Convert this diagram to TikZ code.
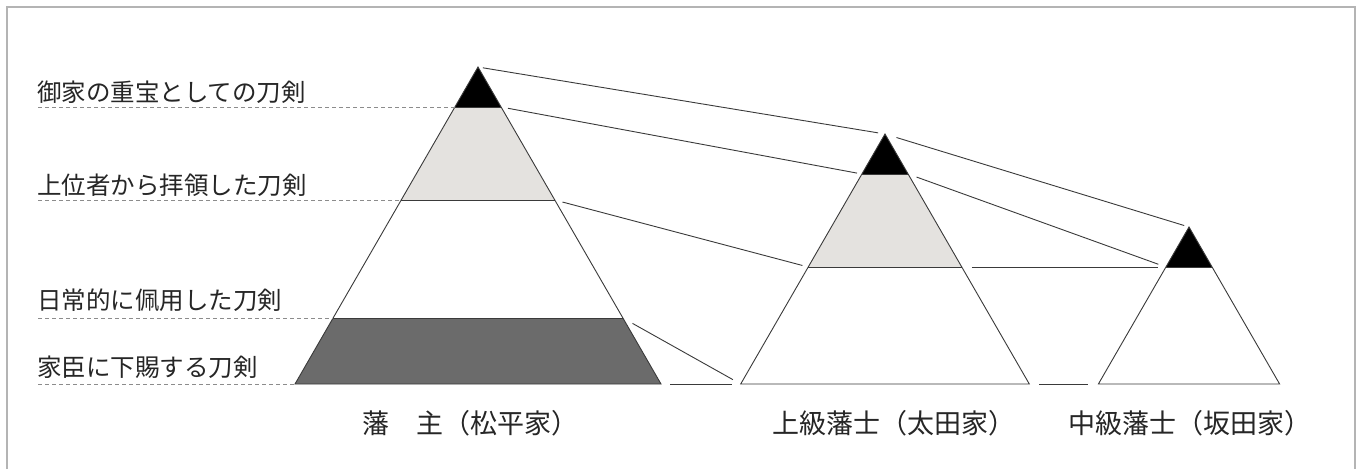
\documentclass[tikz,border=0pt]{standalone}
\usepackage{fontspec}
\setmainfont{Noto Sans CJK JP}
\definecolor{framec}{HTML}{B4B4B4}
\definecolor{linec}{HTML}{3A3A3A}
\definecolor{dashc}{HTML}{8C8C8C}
\definecolor{lightband}{HTML}{E4E2DF}
\definecolor{darkband}{HTML}{6B6B6B}
\begin{document}
\begin{tikzpicture}[x=1pt,y=-1pt,
  outline/.style={draw=linec,line width=0.9pt,line join=miter},
  conn/.style={draw=linec,line width=0.9pt},
  guide/.style={draw=dashc,line width=0.8pt,dash pattern=on 4pt off 3pt},
  sidelabel/.style={anchor=west,inner sep=0pt,font=\fontsize{24.5pt}{26pt}\selectfont,text=black!85},
  baselabel/.style={anchor=center,inner sep=0pt,font=\fontsize{27pt}{29pt}\selectfont,text=black!85}]
\useasboundingbox (0,0) rectangle (1360,469);
\fill[white] (0,0) rectangle (1360,469);
\draw[framec,line width=1.5pt] (7,469) -- (7,7) -- (1355,7) -- (1355,469);
% triangle 1
\coordinate (A1) at (478,67);
\coordinate (L1a) at (454.9,107);
\coordinate (R1a) at (501.1,107);
\coordinate (L1b) at (401.2,200);
\coordinate (R1b) at (554.8,200);
\coordinate (L1c) at (333.1,318);
\coordinate (R1c) at (622.9,318);
\coordinate (BL1) at (295,384);
\coordinate (BR1) at (661,384);
% triangle 2
\coordinate (A2) at (885,134);
\coordinate (L2a) at (861.9,174);
\coordinate (R2a) at (908.1,174);
\coordinate (L2b) at (808.2,267);
\coordinate (R2b) at (961.8,267);
\coordinate (BL2) at (740.7,384);
\coordinate (BR2) at (1029.3,384);
% triangle 3
\coordinate (A3) at (1189,227);
\coordinate (L3a) at (1165.9,267);
\coordinate (R3a) at (1212.1,267);
\coordinate (BL3) at (1098.4,384);
\coordinate (BR3) at (1279.6,384);
% fills
\fill[black] (A1) -- (L1a) -- (R1a) -- cycle;
\fill[lightband] (L1a) -- (R1a) -- (R1b) -- (L1b) -- cycle;
\fill[darkband] (L1c) -- (R1c) -- (BR1) -- (BL1) -- cycle;
\fill[black] (A2) -- (L2a) -- (R2a) -- cycle;
\fill[lightband] (L2a) -- (R2a) -- (R2b) -- (L2b) -- cycle;
\fill[black] (A3) -- (L3a) -- (R3a) -- cycle;
% outlines
\draw[outline] (A1) -- (BL1) -- (BR1) -- cycle;
\draw[outline] (L1a) -- (R1a) (L1b) -- (R1b) (L1c) -- (R1c);
\draw[outline] (A2) -- (BL2) -- (BR2) -- cycle;
\draw[outline] (L2a) -- (R2a) (L2b) -- (R2b);
\draw[outline] (A3) -- (BL3) -- (BR3) -- cycle;
\draw[outline] (L3a) -- (R3a);
% connectors
\draw[conn,shorten <=5pt,shorten >=7pt] (A1) -- (A2);
\draw[conn,shorten <=12pt,shorten >=5pt] (A2) -- (A3);
\draw[conn,shorten <=7pt,shorten >=5pt] (R1a) -- (L2a);
\draw[conn,shorten <=9pt,shorten >=8pt] (R2a) -- (L3a);
\draw[conn,shorten <=8pt,shorten >=6pt] (R1b) -- (L2b);
\draw[conn,shorten <=10pt,shorten >=8pt] (R2b) -- (L3a);
\draw[conn,shorten <=11pt,shorten >=9pt] (R1c) -- (BL2);
\draw[conn,shorten <=9pt,shorten >=9pt] (BR1) -- (BL2);
\draw[conn,shorten <=10pt,shorten >=10pt] (BR2) -- (BL3);
% guides
\coordinate (g1) at (38,107);
\coordinate (g2) at (38,200);
\coordinate (g3) at (38,318);
\coordinate (g4) at (38,384);
\draw[guide] (g1) -- (L1a);
\draw[guide] (g2) -- (L1b);
\draw[guide] (g3) -- (L1c);
\draw[guide] (g4) -- (BL1);
% side labels
\node[sidelabel] (s1) at (37,92) {御家の重宝としての刀剣};
\node[sidelabel] (s2) at (37,185) {上位者から拝領した刀剣};
\node[sidelabel] (s3) at (37,300) {日常的に佩用した刀剣};
\node[sidelabel] (s4) at (37,367) {家臣に下賜する刀剣};
% base labels
\node[baselabel] (b1) at (470,423) {藩　主（松平家）};
\node[baselabel] (b2) at (894,423) {上級藩士（太田家）};
\node[baselabel] (b3) at (1190,423) {中級藩士（坂田家）};
\end{tikzpicture}
\end{document}
